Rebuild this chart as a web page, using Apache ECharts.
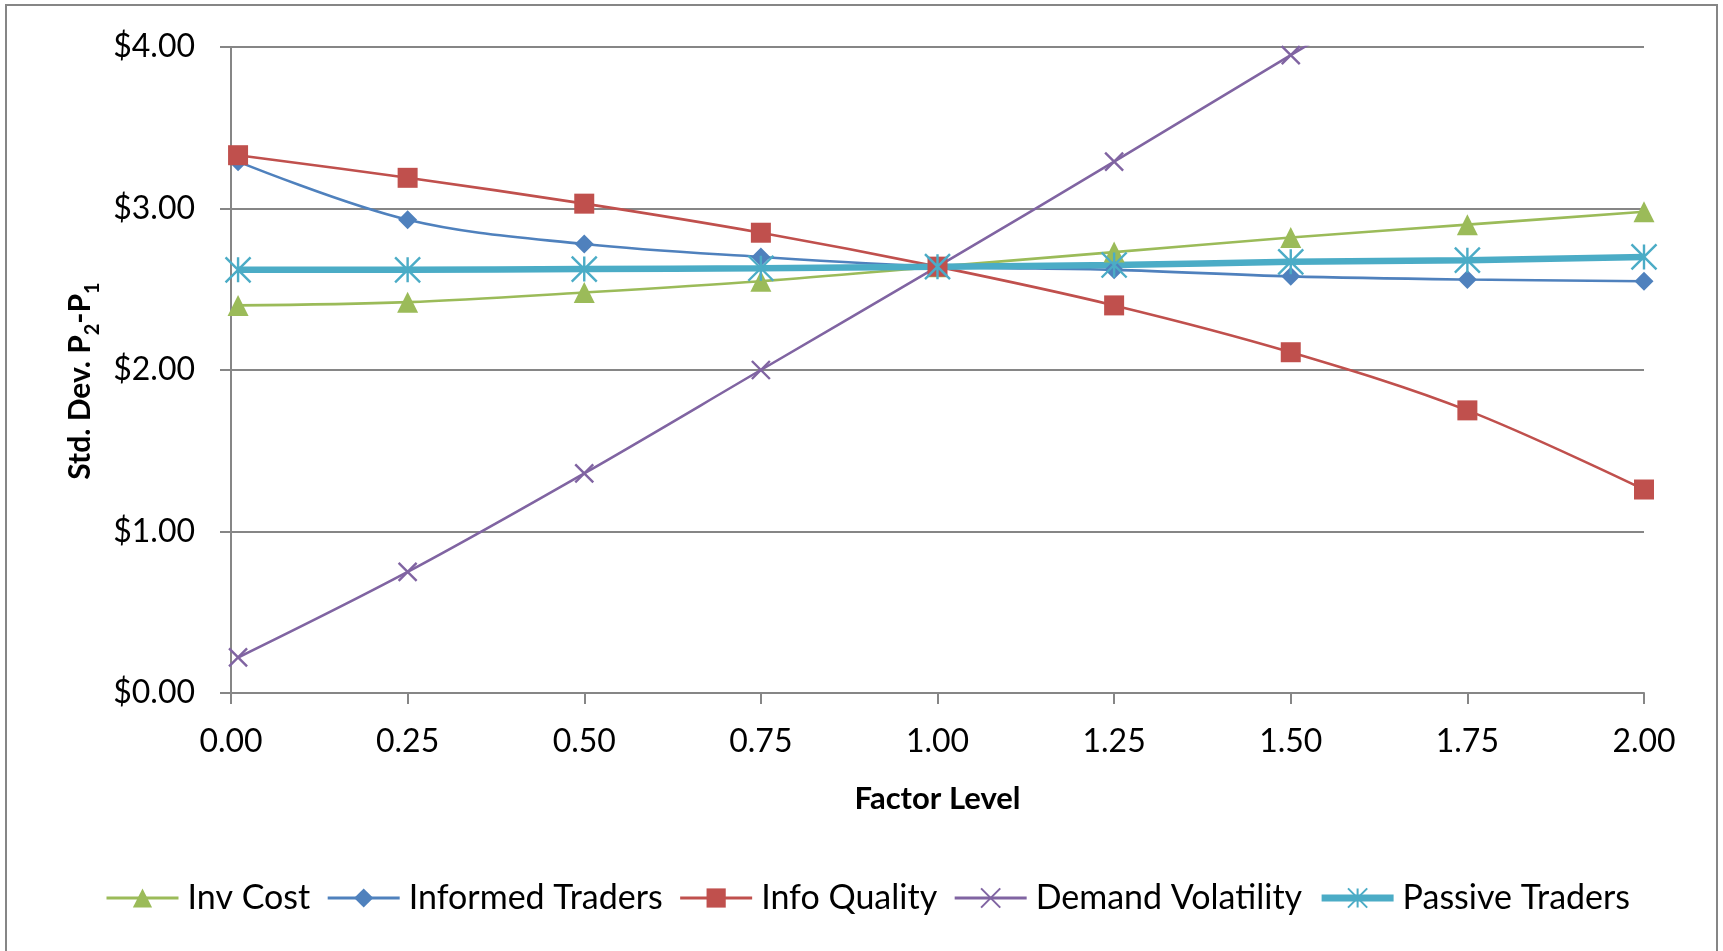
<!DOCTYPE html>
<html>
<head>
<meta charset="utf-8">
<title>Std. Dev. P2-P1 by Factor Level</title>
<script src="https://cdn.jsdelivr.net/npm/echarts@6/dist/echarts.min.js"></script>
<style>
  html, body { margin: 0; padding: 0; background: #ffffff; }
  #chart { width: 1723px; height: 951px; }
</style>
</head>
<body>
<div id="chart"></div>
<script>
// Factor levels on the x axis (first run uses 0.01 instead of 0)
const factorLevels = [0.01, 0.25, 0.5, 0.75, 1.0, 1.25, 1.5, 1.75, 2.0];

// Standard deviation of P2-P1 for each varied factor
const invCost          = [2.40, 2.42, 2.48, 2.55, 2.64, 2.73, 2.82, 2.90, 2.98];
const informedTraders  = [3.29, 2.93, 2.78, 2.70, 2.64, 2.62, 2.58, 2.56, 2.55];
const infoQuality      = [3.33, 3.19, 3.03, 2.85, 2.64, 2.40, 2.11, 1.75, 1.26];
const demandVolatility = [0.22, 0.75, 1.36, 2.00, 2.64, 3.29, 3.95, 4.60, 5.25];
const passiveTraders   = [2.62, 2.62, 2.625, 2.63, 2.64, 2.65, 2.67, 2.68, 2.70];

const seriesNames = ['Inv Cost', 'Informed Traders', 'Info Quality', 'Demand Volatility', 'Passive Traders'];

const FONT = 'Lato, "Open Sans", sans-serif';
const GRID_COLOR = '#868686';

function pairs(values) {
  return factorLevels.map((x, i) => [x, values[i]]);
}

function lineSeries(name, values, color, opts) {
  return Object.assign({
    name: name,
    type: 'line',
    data: pairs(values),
    smooth: 0.35,
    clip: true,
    color: color,
    lineStyle: { color: color, width: 2.6 },
    itemStyle: { color: color, borderColor: color, borderWidth: 0 },
    emphasis: { disabled: true }
  }, opts);
}

const chart = echarts.init(document.getElementById('chart'), null, { renderer: 'canvas' });

chart.setOption({
  animation: false,
  backgroundColor: '#ffffff',
  textStyle: { fontFamily: FONT },
  graphic: [{
    type: 'rect',
    shape: { x: 6, y: 5, width: 1711, height: 1000 },
    style: { fill: 'none', stroke: GRID_COLOR, lineWidth: 2 },
    silent: true
  }],
  grid: { left: 231, right: 79, top: 47, bottom: 258, containLabel: false },
  legend: {
    data: [
      { name: seriesNames[0], lineStyle: { width: 3 } },
      { name: seriesNames[1], lineStyle: { width: 3 } },
      { name: seriesNames[2], lineStyle: { width: 3 } },
      { name: seriesNames[3], lineStyle: { width: 3 } },
      { name: seriesNames[4], lineStyle: { width: 7 } }
    ],
    left: 100,
    top: 876,
    itemWidth: 72,
    itemHeight: 24,
    itemGap: 16,
    textStyle: { fontFamily: FONT, fontSize: 34, color: '#000000', padding: [0, 0, 0, 4] }
  },
  xAxis: {
    type: 'value',
    min: 0,
    max: 2,
    interval: 0.25,
    name: 'Factor Level',
    nameLocation: 'middle',
    nameGap: 90,
    nameTextStyle: { fontFamily: FONT, fontSize: 31, fontWeight: 'bold', color: '#000000' },
    axisLine: { show: true, lineStyle: { color: GRID_COLOR, width: 2 } },
    axisTick: { show: true, length: 11, lineStyle: { color: GRID_COLOR, width: 2 } },
    axisLabel: {
      margin: 33,
      fontFamily: FONT, fontSize: 32, color: '#000000',
      formatter: v => v.toFixed(2)
    },
    splitLine: { show: false }
  },
  yAxis: {
    type: 'value',
    min: 0,
    max: 4,
    interval: 1,
    name: 'Std. Dev. P{sub|2}-P{sub|1}',
    nameLocation: 'middle',
    nameGap: 135,
    nameRotate: 90,
    nameTextStyle: {
      fontFamily: FONT, fontSize: 30, fontWeight: 'bold', color: '#000000',
      lineHeight: 44, verticalAlign: 'middle',
      padding: [0, 22, 0, 0],
      rich: {
        sub: { fontFamily: FONT, fontSize: 20, fontWeight: 'bold', color: '#000000', verticalAlign: 'bottom', lineHeight: 20 }
      }
    },
    axisLine: { show: true, lineStyle: { color: GRID_COLOR, width: 2 } },
    axisTick: { show: true, length: 11, lineStyle: { color: GRID_COLOR, width: 2 } },
    axisLabel: {
      margin: 36,
      fontFamily: FONT, fontSize: 32, color: '#000000',
      formatter: v => '$' + v.toFixed(2)
    },
    splitLine: { show: true, lineStyle: { color: GRID_COLOR, width: 2 } }
  },
  series: [
    lineSeries(seriesNames[0], invCost, '#9BBB59', { symbol: 'triangle', symbolSize: 21 }),
    lineSeries(seriesNames[1], informedTraders, '#4F81BD', { symbol: 'diamond', symbolSize: 19 }),
    lineSeries(seriesNames[2], infoQuality, '#C0504D', { symbol: 'rect', symbolSize: 20 }),
    lineSeries(seriesNames[3], demandVolatility, '#8064A2', {
      symbol: 'path://M0,0L10,10M10,0L0,10',
      symbolSize: 18,
      itemStyle: { color: 'rgba(0,0,0,0)', borderColor: '#8064A2', borderWidth: 2.4 }
    }),
    lineSeries(seriesNames[4], passiveTraders, '#4BACC6', {
      symbol: 'path://M5,0L5,10M0,0L10,10M10,0L0,10',
      symbolSize: 25,
      lineStyle: { color: '#4BACC6', width: 6.5 },
      itemStyle: { color: 'rgba(0,0,0,0)', borderColor: '#4BACC6', borderWidth: 2.4 }
    })
  ]
});
</script>
</body>
</html>
